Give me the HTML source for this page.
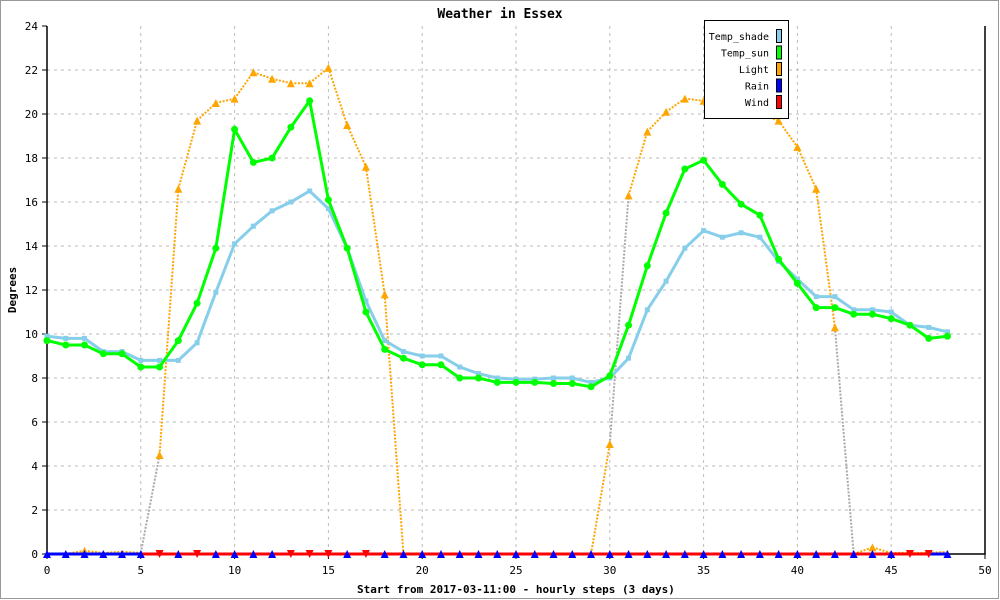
<!DOCTYPE html>
<html><head><meta charset="utf-8"><style>
body{margin:0;background:#fff}
svg{display:block;font-family:"DejaVu Sans Mono","Liberation Mono",monospace}
</style></head><body>
<svg id="c" width="1000" height="600">
<rect x="0.5" y="0.5" width="998" height="598" fill="#fff" stroke="#999"/>
<text x="500" y="18" text-anchor="middle" font-size="13" font-weight="bold">Weather in Essex</text>
<text x="516" y="593" text-anchor="middle" font-size="11" font-weight="bold">Start from 2017-03-11:00 - hourly steps (3 days)</text>
<text x="16" y="290" text-anchor="middle" font-size="11" font-weight="bold" transform="rotate(-90 16 290)">Degrees</text>
<g id="grid"></g><g id="axes"></g><g id="series"></g>
<g>
<rect x="704.5" y="20.5" width="84" height="98" fill="#fff" stroke="#000"/>
<g id="legend"></g>
</g>
</svg>
<script>
const xTicks=[0,5,10,15,20,25,30,35,40,45,50];
const yTicks=[0,2,4,6,8,10,12,14,16,18,20,22,24];
const tempShade=[9.9,9.8,9.8,9.2,9.2,8.8,8.8,8.8,9.6,11.9,14.1,14.9,15.6,16.0,16.5,15.7,13.9,11.5,9.7,9.2,9.0,9.0,8.5,8.2,8.0,7.95,7.95,8.0,8.0,7.8,8.0,8.9,11.1,12.4,13.9,14.7,14.4,14.6,14.4,13.3,12.5,11.7,11.7,11.1,11.1,11.0,10.4,10.3,10.1];
const tempSun=[9.7,9.5,9.5,9.1,9.1,8.5,8.5,9.7,11.4,13.9,19.3,17.8,18.0,19.4,20.6,16.1,13.9,11.0,9.3,8.9,8.6,8.6,8.0,8.0,7.8,7.8,7.8,7.75,7.75,7.6,8.1,10.4,13.1,15.5,17.5,17.9,16.8,15.9,15.4,13.4,12.3,11.2,11.2,10.9,10.9,10.7,10.4,9.8,9.9];
const light=[0,0,0.15,0.05,0.1,0.05,4.5,16.6,19.7,20.5,20.7,21.9,21.6,21.4,21.4,22.1,19.5,17.6,11.8,0,0,0,0,0,0,0,0,0,0,0,5.0,16.3,19.2,20.1,20.7,20.6,20.5,20.3,20.0,19.7,18.5,16.6,10.3,0,0.3,0.05,0.05,0.05,0.1];
const rain=new Array(49).fill(0);
const wind=new Array(49).fill(0);
const windMarks=[6,8,13,14,15,17,46,47];
const names=["Temp_shade","Temp_sun","Light","Rain","Wind"];
const colors=["#87ceeb","#00ff00","#ffa500","#0000ff","#ff0000"];
const NS="http://www.w3.org/2000/svg";
const X0=47,X1=985,Y0=554,Y1=26;
const sx=v=>X0+(X1-X0)*v/50, sy=v=>Y0-(Y0-Y1)*v/24;
function mk(tag,attrs,parent){const e=document.createElementNS(NS,tag);for(const k in attrs)e.setAttribute(k,attrs[k]);parent.appendChild(e);return e;}
const grid=document.getElementById('grid'),axes=document.getElementById('axes'),ser=document.getElementById('series'),leg=document.getElementById('legend');
xTicks.forEach(t=>{
 if(t>0&&t<50){const g=mk('line',{x1:sx(t),x2:sx(t),y1:Y1,y2:Y0,stroke:'#bbb','stroke-dasharray':'3,4'},grid);
 
 }
 const tk=mk('line',{x1:sx(t),x2:sx(t),y1:Y0,y2:Y0+5,stroke:'#000'},axes);
 
 
 const tx=mk('text',{x:sx(t),y:574,'text-anchor':'middle','font-size':11},axes);tx.textContent=t;
 
 
});
yTicks.forEach(t=>{
 if(t>0&&t<24){const g=mk('line',{x1:X0,x2:X1,y1:sy(t),y2:sy(t),stroke:'#bbb','stroke-dasharray':'3,4'},grid);
 
 }
 const tk=mk('line',{x1:X0-5,x2:X0,y1:sy(t),y2:sy(t),stroke:'#000'},axes);
 
 
 const tx=mk('text',{x:X0-9,y:sy(t)+4,'text-anchor':'end','font-size':11},axes);tx.textContent=t;
 
 
});
const ax=mk('path',{d:`M${X0},${Y1}V${Y0}H${X1}V${Y1}`,fill:'none',stroke:'#000','stroke-width':1.5},axes);


function pts(arr){return arr.map((v,i)=>sx(i)+','+sy(v)).join(' ');}
function tri(x,y,up){return up?`${x-4},${y+4} ${x+4},${y+4} ${x},${y-4}`:`${x-4},${y-4} ${x+4},${y-4} ${x},${y+4}`;}
// light
for(let i=0;i<light.length-1;i++){
 const steep=Math.abs(light[i+1]-light[i])>4&&(i===5||i===30||i===42||i===14);
 const l=mk('line',{x1:sx(i),y1:sy(light[i]),x2:sx(i+1),y2:sy(light[i+1]),stroke:steep?'#aaa':'#ffa500','stroke-width':2,'stroke-dasharray':'2,1.5'},ser);
 
 
}
light.forEach((v,i)=>{if(v>0.2||i===2||i===44){const m=mk('polygon',{points:tri(sx(i),sy(v),true),fill:'#ffa500'},ser);
 
 }});
const ls=mk('polyline',{points:pts(tempShade),fill:'none',stroke:'#87ceeb','stroke-width':3},ser);


tempShade.forEach((v,i)=>{const m=mk('rect',{x:sx(i)-2.5,y:sy(v)-2.5,width:5,height:5,fill:'#87ceeb'},ser);
 
 });
const lsun=mk('polyline',{points:pts(tempSun),fill:'none',stroke:'#00ff00','stroke-width':3},ser);


tempSun.forEach((v,i)=>{const m=mk('circle',{cx:sx(i),cy:sy(v),r:3.5,fill:'#00ff00'},ser);
 
 });
const lr=mk('polyline',{points:pts(rain),fill:'none',stroke:'#0000ff','stroke-width':3},ser);


const lw=mk('polyline',{points:pts(wind.slice(0,48)).split(' ').slice(5).join(' '),fill:'none',stroke:'#ff0000','stroke-width':3},ser);


rain.forEach((v,i)=>{if(!windMarks.includes(i)){const m=mk('polygon',{points:tri(sx(i),sy(v),true),fill:'#0000ff'},ser);
 
 }});
windMarks.forEach(i=>{const m=mk('polygon',{points:tri(sx(i),sy(wind[i]),false),fill:'#ff0000'},ser);
 
 });
names.forEach((n,k)=>{const y=36+k*16.5;
 const t=mk('text',{x:769,y:y+4,'text-anchor':'end','font-size':10},leg);t.textContent=n;
 
 
 const r=mk('rect',{x:776.5,y:y-6.5,width:5,height:13,fill:colors[k],stroke:'#000'},leg);
 
 
});
</script>
</body></html>
